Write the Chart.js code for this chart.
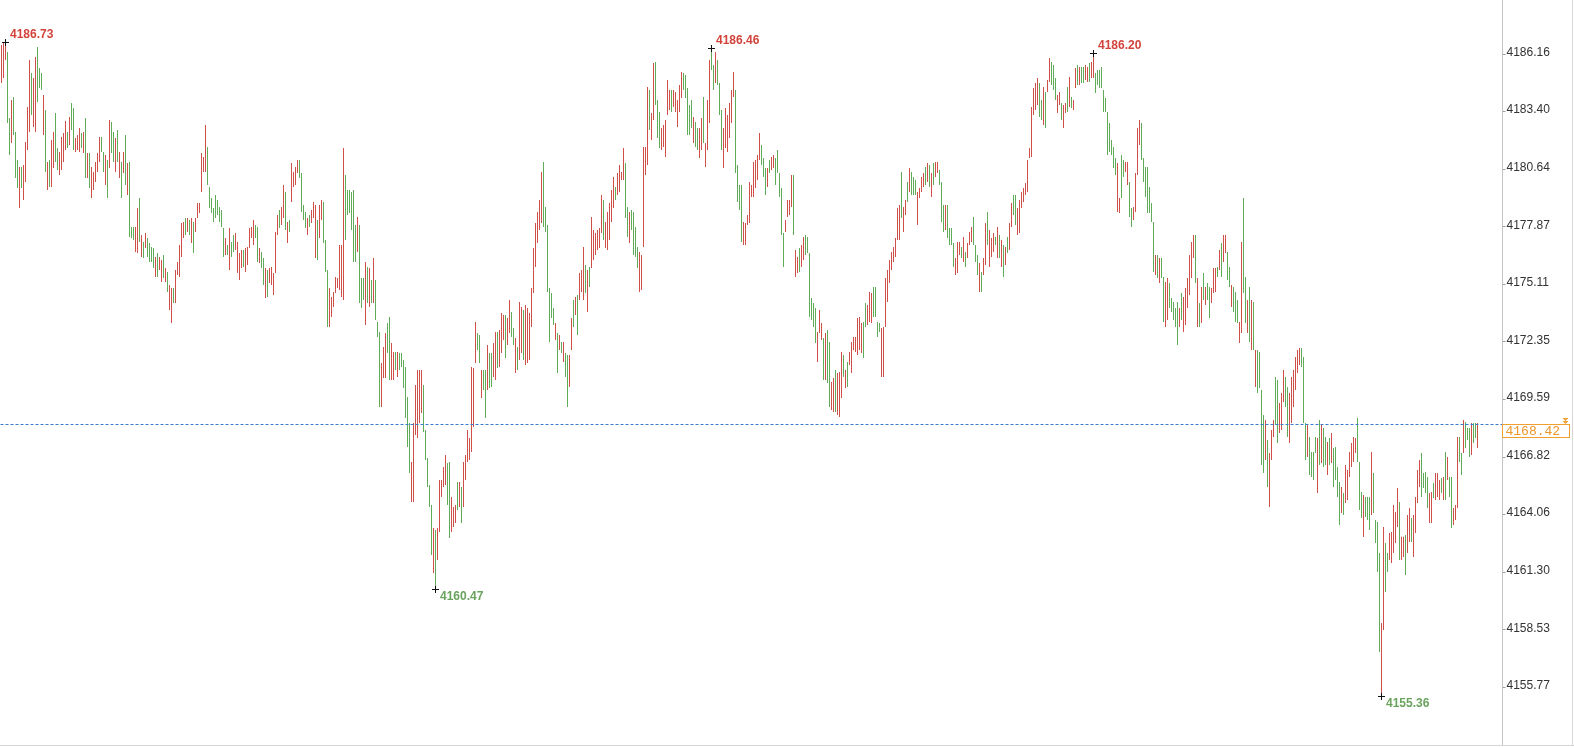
<!DOCTYPE html>
<html>
<head>
<meta charset="utf-8">
<title>4168.42</title>
<script src="https://cdn.jsdelivr.net/npm/chart.js@4.4.0/dist/chart.umd.min.js"></script>
<style>
  html, body { margin: 0; padding: 0; background: #fff; overflow: hidden; }
  #chart { display: block; }
</style>
</head>
<body>
<canvas id="chart" width="1574" height="747"></canvas>
<script>
"use strict";

// bar highs left to right
const highs = [
  4186.60, 4186.70, 4186.73, 4186.26, 4183.10, 4183.96, 4184.10, 4182.42, 4181.08, 4180.74,
  4180.74, 4180.84, 4181.94, 4183.62, 4185.88, 4185.26, 4185.02, 4186.02, 4186.50, 4185.50,
  4185.26, 4184.20, 4183.48, 4180.98, 4181.08, 4182.04, 4182.42, 4183.34, 4181.66, 4181.46,
  4182.18, 4182.38, 4182.95, 4182.42, 4183.14, 4183.82, 4183.58, 4182.14, 4182.28, 4182.62,
  4182.38, 4182.42, 4183.10, 4181.42, 4181.42, 4180.74, 4180.50, 4180.98, 4181.42, 4182.18,
  4182.18, 4181.46, 4181.32, 4181.08, 4183.00, 4182.90, 4182.42, 4182.14, 4182.52, 4181.46,
  4180.98, 4181.46, 4182.28, 4180.94, 4180.98, 4177.86, 4177.86, 4177.86, 4178.78, 4179.26,
  4177.48, 4177.14, 4177.58, 4177.34, 4177.10, 4176.90, 4176.86, 4176.42, 4176.62, 4176.42,
  4176.28, 4176.52, 4175.90, 4175.70, 4175.08, 4174.94, 4174.94, 4175.80, 4176.18, 4177.00,
  4178.06, 4178.10, 4178.30, 4178.30, 4178.20, 4178.30, 4178.10, 4178.30, 4179.02, 4179.02,
  4181.42, 4181.22, 4182.76, 4181.70, 4179.78, 4179.26, 4178.78, 4179.40, 4179.16, 4178.82,
  4178.68, 4177.82, 4177.34, 4177.00, 4177.82, 4177.14, 4177.48, 4177.58, 4177.14, 4176.62,
  4176.76, 4176.76, 4176.86, 4176.90, 4177.82, 4177.86, 4178.20, 4177.96, 4177.86, 4176.86,
  4176.66, 4176.38, 4175.90, 4175.80, 4175.90, 4175.94, 4175.66, 4177.62, 4178.44, 4178.68,
  4178.82, 4179.88, 4179.54, 4178.10, 4178.20, 4180.94, 4180.50, 4180.74, 4181.08, 4181.08,
  4180.46, 4178.92, 4178.58, 4178.30, 4178.44, 4178.68, 4179.06, 4178.92, 4178.20, 4178.92,
  4179.16, 4179.06, 4177.24, 4175.80, 4174.94, 4174.50, 4174.74, 4175.46, 4175.42, 4177.00,
  4177.00, 4181.66, 4180.36, 4179.64, 4179.64, 4179.54, 4179.64, 4177.96, 4178.34, 4177.96,
  4175.42, 4175.42, 4176.18, 4175.94, 4175.90, 4175.32, 4176.38, 4175.32, 4173.30, 4172.82,
  4171.34, 4172.10, 4172.78, 4173.26, 4173.54, 4172.30, 4171.86, 4171.86, 4171.86, 4171.82,
  4171.82, 4171.48, 4171.14, 4169.70, 4168.46, 4166.58, 4168.46, 4170.28, 4171.00, 4171.00,
  4171.00, 4170.28, 4168.12, 4166.78, 4165.48, 4164.52, 4163.42, 4163.32, 4163.42, 4165.72,
  4165.72, 4166.34, 4166.92, 4166.54, 4166.58, 4164.90, 4164.42, 4164.52, 4165.62, 4165.62,
  4165.38, 4166.58, 4166.92, 4168.12, 4167.74, 4171.14, 4171.10, 4173.30, 4172.78, 4172.68,
  4171.00, 4171.00, 4171.00, 4172.20, 4171.82, 4171.82, 4172.30, 4172.82, 4172.82, 4172.92,
  4173.74, 4173.64, 4173.64, 4173.50, 4174.36, 4173.78, 4173.02, 4172.54, 4172.10, 4174.26,
  4174.02, 4173.88, 4174.12, 4173.98, 4173.74, 4174.94, 4176.86, 4178.06, 4178.58, 4179.16,
  4180.50, 4180.98, 4178.82, 4177.96, 4174.94, 4174.70, 4173.98, 4173.26, 4172.78, 4172.68,
  4172.34, 4172.34, 4171.82, 4171.72, 4171.72, 4173.50, 4174.36, 4174.50, 4174.60, 4175.66,
  4175.80, 4176.90, 4176.04, 4175.80, 4175.94, 4178.34, 4177.72, 4177.58, 4177.72, 4177.82,
  4179.40, 4179.16, 4178.10, 4178.58, 4179.02, 4179.64, 4180.26, 4179.78, 4180.46, 4180.84,
  4180.50, 4181.66, 4180.94, 4178.82, 4178.58, 4178.68, 4178.58, 4177.86, 4176.90, 4176.66,
  4176.52, 4181.70, 4181.70, 4184.58, 4184.44, 4183.34, 4185.74, 4185.78, 4183.96, 4183.38,
  4182.62, 4182.76, 4183.00, 4184.92, 4184.44, 4184.44, 4184.44, 4184.34, 4183.96, 4184.68,
  4185.30, 4185.26, 4185.16, 4184.54, 4183.72, 4183.96, 4183.14, 4182.90, 4182.62, 4182.62,
  4183.10, 4184.10, 4181.90, 4183.96, 4185.88, 4186.46, 4185.64, 4186.26, 4185.88, 4184.78,
  4183.48, 4182.62, 4183.58, 4183.24, 4183.82, 4184.44, 4185.30, 4184.44, 4180.84, 4179.88,
  4179.88, 4178.10, 4178.06, 4178.44, 4180.02, 4179.88, 4180.98, 4181.08, 4181.32, 4182.38,
  4181.80, 4181.18, 4180.70, 4180.70, 4181.08, 4181.22, 4181.32, 4181.18, 4181.56, 4180.46,
  4179.74, 4177.58, 4178.20, 4179.16, 4179.16, 4180.36, 4180.36, 4176.76, 4176.42, 4176.86,
  4177.00, 4177.38, 4177.48, 4177.38, 4176.62, 4174.46, 4174.22, 4173.98, 4172.82, 4173.88,
  4173.26, 4172.54, 4172.78, 4172.92, 4172.34, 4170.42, 4170.62, 4171.00, 4170.86, 4170.90,
  4171.86, 4171.72, 4171.00, 4171.38, 4171.86, 4172.34, 4172.58, 4172.58, 4173.50, 4173.54,
  4173.26, 4173.30, 4174.22, 4174.12, 4174.74, 4174.70, 4174.98, 4174.98, 4173.30, 4173.26,
  4173.02, 4173.06, 4175.42, 4175.80, 4176.28, 4176.66, 4176.90, 4177.34, 4178.78, 4178.92,
  4180.50, 4178.82, 4179.16, 4180.02, 4180.70, 4180.50, 4180.26, 4180.12, 4179.54, 4179.74,
  4180.26, 4180.46, 4180.74, 4180.94, 4180.84, 4180.46, 4180.94, 4180.98, 4180.98, 4180.60,
  4180.02, 4178.92, 4178.92, 4178.92, 4177.82, 4177.82, 4177.10, 4176.38, 4177.14, 4177.14,
  4176.90, 4177.38, 4176.66, 4177.10, 4177.62, 4177.86, 4178.34, 4177.00, 4176.52, 4176.14,
  4175.70, 4176.38, 4178.06, 4178.58, 4177.72, 4177.34, 4177.58, 4177.38, 4177.86, 4177.48,
  4177.24, 4177.00, 4176.90, 4177.38, 4178.06, 4179.02, 4179.40, 4179.40, 4178.78, 4179.16,
  4179.54, 4179.74, 4179.98, 4181.08, 4181.66, 4183.62, 4184.54, 4184.78, 4185.02, 4184.78,
  4183.96, 4184.58, 4184.34, 4184.92, 4185.98, 4185.78, 4185.64, 4185.02, 4184.20, 4184.34,
  4183.82, 4183.72, 4183.82, 4184.58, 4185.06, 4184.10, 4183.96, 4185.50, 4185.64, 4185.54,
  4185.54, 4185.54, 4185.64, 4185.54, 4185.74, 4185.78, 4186.20, 4185.26, 4185.40, 4185.40,
  4185.54, 4184.44, 4184.06, 4183.38, 4182.86, 4182.04, 4181.70, 4181.18, 4180.94, 4179.26,
  4181.32, 4181.08, 4180.98, 4180.98, 4180.02, 4178.78, 4178.82, 4180.46, 4182.62, 4183.00,
  4182.86, 4181.18, 4180.74, 4180.74, 4179.78, 4179.02, 4178.10, 4176.52, 4176.52, 4176.38,
  4176.38, 4175.46, 4175.22, 4175.42, 4175.18, 4174.46, 4174.26, 4173.98, 4174.26, 4173.98,
  4174.70, 4174.50, 4174.94, 4175.42, 4176.52, 4177.14, 4177.48, 4177.48, 4175.42, 4174.22,
  4174.98, 4175.66, 4174.98, 4175.18, 4174.98, 4174.94, 4175.90, 4175.90, 4175.94, 4176.76,
  4177.10, 4177.48, 4177.48, 4176.66, 4175.94, 4175.08, 4174.98, 4174.74, 4174.36, 4173.30,
  4177.14, 4179.26, 4175.46, 4174.36, 4174.98, 4174.36, 4174.26, 4171.96, 4171.96, 4171.86,
  4170.04, 4168.84, 4168.60, 4167.64, 4167.02, 4168.12, 4168.60, 4170.66, 4170.52, 4169.42,
  4169.90, 4171.00, 4170.66, 4170.18, 4169.90, 4170.66, 4171.00, 4171.62, 4171.96, 4172.06,
  4172.06, 4171.62, 4168.46, 4168.36, 4167.78, 4167.06, 4167.06, 4167.78, 4167.74, 4168.60,
  4168.36, 4168.22, 4167.78, 4167.54, 4167.74, 4167.98, 4167.26, 4167.30, 4166.34, 4165.62,
  4165.38, 4165.10, 4166.44, 4166.20, 4167.06, 4167.50, 4167.78, 4167.74, 4168.70, 4166.58,
  4165.14, 4165.00, 4164.90, 4164.90, 4164.90, 4167.06, 4166.06, 4163.80, 4163.70, 4162.22,
  4158.86, 4163.46, 4162.70, 4162.22, 4163.18, 4163.22, 4164.52, 4164.18, 4165.34, 4164.66,
  4163.00, 4163.00, 4163.08, 4164.04, 4164.38, 4163.90, 4164.04, 4164.90, 4166.20, 4166.68,
  4167.02, 4166.06, 4166.10, 4165.86, 4165.10, 4165.14, 4165.58, 4166.06, 4166.06, 4165.72,
  4165.82, 4165.86, 4167.06, 4166.82, 4165.86, 4165.86, 4164.38, 4164.52, 4167.78, 4167.78,
  4167.02, 4168.60, 4168.50, 4168.22, 4168.22, 4168.46, 4168.46, 4168.46, 4168.46
];

// bar lows, same order
const lows = [
  4184.78, 4185.02, 4185.88, 4182.86, 4181.32, 4181.90, 4182.28, 4180.22, 4179.74, 4178.78,
  4179.74, 4179.16, 4180.02, 4181.56, 4182.42, 4183.24, 4182.66, 4182.42, 4183.86, 4184.54,
  4184.44, 4182.28, 4180.50, 4179.64, 4179.78, 4179.78, 4180.70, 4180.98, 4180.60, 4180.36,
  4180.60, 4180.98, 4181.56, 4181.66, 4181.80, 4182.52, 4181.56, 4181.46, 4181.56, 4181.46,
  4181.66, 4181.42, 4180.22, 4180.22, 4179.74, 4179.26, 4179.64, 4180.02, 4180.50, 4180.98,
  4181.46, 4180.50, 4179.88, 4179.26, 4180.70, 4181.42, 4180.98, 4180.50, 4180.98, 4180.22,
  4179.26, 4180.46, 4179.88, 4179.40, 4177.38, 4177.34, 4177.24, 4176.66, 4176.62, 4177.14,
  4176.42, 4176.38, 4176.86, 4176.42, 4176.18, 4176.18, 4175.90, 4175.46, 4175.46, 4175.80,
  4175.22, 4175.42, 4175.22, 4174.74, 4173.88, 4173.26, 4174.22, 4174.22, 4175.56, 4175.46,
  4176.42, 4177.34, 4177.48, 4177.62, 4177.48, 4177.10, 4176.62, 4177.62, 4178.30, 4178.54,
  4179.54, 4180.50, 4180.50, 4179.88, 4178.78, 4178.54, 4178.10, 4178.30, 4178.44, 4178.10,
  4177.86, 4176.42, 4176.52, 4176.52, 4175.80, 4176.42, 4176.66, 4176.76, 4175.66, 4175.32,
  4175.90, 4175.94, 4175.70, 4176.04, 4176.86, 4177.34, 4177.00, 4177.34, 4176.18, 4176.14,
  4175.90, 4175.08, 4174.46, 4174.50, 4175.18, 4175.08, 4174.60, 4175.66, 4177.48, 4177.82,
  4177.96, 4178.30, 4177.72, 4177.10, 4177.62, 4179.06, 4179.78, 4179.88, 4180.46, 4180.22,
  4178.58, 4178.20, 4177.82, 4177.48, 4177.86, 4178.06, 4178.30, 4176.38, 4176.28, 4177.34,
  4178.20, 4177.10, 4175.70, 4173.06, 4173.06, 4173.54, 4174.02, 4174.70, 4174.94, 4174.84,
  4174.50, 4174.36, 4177.24, 4178.44, 4178.54, 4177.72, 4176.18, 4176.18, 4176.66, 4174.22,
  4173.98, 4174.36, 4173.16, 4174.22, 4174.02, 4174.22, 4174.22, 4173.40, 4172.58, 4169.22,
  4169.22, 4170.62, 4170.62, 4171.82, 4170.52, 4170.52, 4170.52, 4171.00, 4170.66, 4171.00,
  4171.14, 4170.14, 4168.70, 4167.30, 4166.06, 4164.66, 4164.66, 4167.88, 4167.74, 4168.46,
  4168.94, 4168.02, 4166.68, 4165.38, 4164.42, 4162.12, 4161.26, 4160.47, 4161.88, 4163.22,
  4164.90, 4165.38, 4165.48, 4164.52, 4162.94, 4163.22, 4163.46, 4163.66, 4164.28, 4164.42,
  4163.66, 4164.42, 4165.72, 4166.58, 4166.68, 4167.06, 4168.26, 4171.34, 4171.96, 4171.34,
  4169.66, 4170.04, 4168.70, 4170.04, 4170.14, 4170.18, 4170.66, 4170.52, 4171.10, 4171.14,
  4171.82, 4172.44, 4171.58, 4172.20, 4172.78, 4172.58, 4172.20, 4170.86, 4171.00, 4171.48,
  4171.82, 4171.48, 4171.24, 4171.34, 4171.48, 4173.06, 4174.70, 4175.94, 4177.10, 4177.72,
  4178.06, 4177.86, 4177.62, 4174.74, 4172.34, 4173.50, 4173.16, 4172.44, 4170.86, 4171.96,
  4171.82, 4171.38, 4170.66, 4169.22, 4170.18, 4171.96, 4173.06, 4173.64, 4172.68, 4174.36,
  4174.74, 4174.36, 4174.70, 4173.78, 4174.98, 4175.90, 4176.28, 4176.52, 4176.76, 4176.86,
  4177.58, 4177.24, 4176.86, 4176.76, 4177.24, 4178.10, 4178.78, 4179.16, 4179.40, 4179.54,
  4180.12, 4180.12, 4178.30, 4177.38, 4177.10, 4177.72, 4176.52, 4176.42, 4175.90, 4174.74,
  4174.84, 4176.90, 4180.36, 4180.84, 4182.52, 4182.04, 4183.00, 4183.72, 4182.14, 4181.66,
  4181.56, 4181.70, 4181.22, 4183.24, 4183.48, 4183.38, 4183.62, 4183.38, 4182.66, 4183.38,
  4184.06, 4184.44, 4184.06, 4182.28, 4182.28, 4182.62, 4181.90, 4181.70, 4181.56, 4181.18,
  4181.56, 4181.90, 4180.74, 4181.56, 4182.86, 4185.40, 4184.44, 4184.78, 4184.68, 4183.24,
  4181.56, 4180.70, 4181.66, 4181.46, 4182.14, 4182.86, 4184.10, 4180.46, 4179.06, 4178.68,
  4177.14, 4177.00, 4177.00, 4177.96, 4178.06, 4179.30, 4179.30, 4179.74, 4180.12, 4181.08,
  4180.84, 4180.26, 4179.40, 4179.78, 4180.46, 4180.60, 4180.70, 4179.88, 4180.46, 4179.30,
  4177.48, 4175.94, 4177.62, 4178.34, 4178.44, 4178.82, 4177.48, 4175.46, 4175.66, 4175.70,
  4175.94, 4176.28, 4176.52, 4176.62, 4173.54, 4173.40, 4173.06, 4172.30, 4171.38, 4172.78,
  4172.44, 4170.52, 4170.52, 4170.38, 4169.22, 4169.08, 4168.98, 4168.98, 4168.84, 4168.74,
  4169.66, 4170.66, 4170.14, 4170.18, 4171.24, 4170.86, 4171.96, 4171.86, 4171.72, 4171.96,
  4171.82, 4171.58, 4173.06, 4173.16, 4173.30, 4173.26, 4173.54, 4173.54, 4172.58, 4172.82,
  4170.66, 4170.66, 4173.06, 4174.26, 4175.18, 4175.80, 4176.18, 4176.42, 4177.24, 4177.24,
  4178.30, 4177.62, 4178.44, 4179.06, 4179.54, 4179.40, 4179.40, 4179.40, 4177.96, 4179.26,
  4179.54, 4179.78, 4179.88, 4180.02, 4179.78, 4179.30, 4179.88, 4180.26, 4180.46, 4179.88,
  4178.10, 4177.62, 4177.72, 4177.34, 4177.00, 4177.00, 4175.94, 4175.56, 4175.66, 4176.52,
  4176.38, 4176.18, 4175.94, 4176.38, 4177.00, 4177.14, 4177.00, 4176.18, 4175.56, 4174.74,
  4174.74, 4175.56, 4176.04, 4177.00, 4175.94, 4176.42, 4176.66, 4177.00, 4176.38, 4176.38,
  4175.94, 4175.46, 4176.04, 4176.62, 4176.76, 4177.86, 4178.44, 4177.96, 4177.48, 4177.58,
  4178.78, 4179.06, 4179.40, 4179.54, 4181.18, 4181.22, 4183.24, 4183.48, 4183.72, 4183.14,
  4183.00, 4182.76, 4182.62, 4184.34, 4184.82, 4184.68, 4184.44, 4183.96, 4183.34, 4183.72,
  4183.00, 4182.62, 4183.34, 4183.38, 4183.62, 4183.58, 4183.48, 4184.54, 4184.68, 4184.68,
  4184.78, 4184.78, 4184.92, 4184.82, 4184.82, 4185.02, 4185.02, 4184.30, 4184.68, 4184.54,
  4184.54, 4183.38, 4183.38, 4181.32, 4181.46, 4181.32, 4180.70, 4180.36, 4178.58, 4178.54,
  4179.26, 4180.26, 4180.50, 4179.88, 4178.34, 4177.86, 4178.20, 4178.58, 4180.36, 4181.80,
  4181.08, 4180.02, 4179.30, 4178.54, 4178.54, 4178.10, 4175.70, 4175.56, 4175.42, 4175.18,
  4175.42, 4173.30, 4173.06, 4173.40, 4173.98, 4173.78, 4173.40, 4173.06, 4172.20, 4173.06,
  4173.40, 4172.82, 4173.16, 4173.98, 4174.60, 4175.42, 4176.38, 4175.18, 4173.06, 4173.06,
  4173.26, 4174.36, 4174.12, 4174.36, 4173.50, 4174.22, 4174.70, 4174.74, 4175.46, 4175.80,
  4175.46, 4176.18, 4176.62, 4175.32, 4174.98, 4174.02, 4173.78, 4173.30, 4173.26, 4172.30,
  4172.78, 4174.70, 4173.26, 4172.78, 4172.34, 4171.96, 4171.96, 4170.18, 4169.90, 4170.14,
  4166.44, 4166.06, 4166.68, 4165.38, 4164.42, 4166.68, 4167.78, 4168.36, 4167.50, 4167.98,
  4168.12, 4169.46, 4169.22, 4167.78, 4167.50, 4168.46, 4169.22, 4170.04, 4170.86, 4171.24,
  4171.14, 4168.46, 4166.68, 4166.82, 4165.96, 4165.86, 4165.72, 4167.02, 4165.10, 4166.44,
  4166.54, 4166.34, 4166.44, 4165.96, 4166.44, 4166.54, 4165.38, 4165.72, 4164.90, 4163.56,
  4164.14, 4164.04, 4164.62, 4164.76, 4165.86, 4166.34, 4166.58, 4167.02, 4166.58, 4164.28,
  4163.90, 4162.98, 4163.94, 4163.80, 4163.32, 4164.04, 4164.14, 4162.70, 4161.30, 4157.46,
  4155.36, 4158.52, 4160.34, 4161.30, 4161.88, 4161.74, 4162.22, 4162.70, 4163.46, 4161.88,
  4161.88, 4162.02, 4161.16, 4162.22, 4162.74, 4162.74, 4162.02, 4163.18, 4164.62, 4165.38,
  4164.90, 4165.34, 4165.10, 4164.38, 4163.66, 4163.66, 4164.86, 4164.76, 4164.90, 4164.76,
  4165.10, 4164.76, 4164.76, 4165.72, 4164.90, 4163.42, 4163.56, 4163.80, 4164.38, 4166.58,
  4165.96, 4167.02, 4167.26, 4167.64, 4166.82, 4166.92, 4167.50, 4167.74, 4167.26
];

// r = closed up (red), g = closed down (green)
const dirs =
  "rrrggrgggr" + "grrrrgrrgg" + "grgrgrrggr" + "rrrgrggrrr" + "grgrgrrrrr" +
  "ggrgrggrgr" + "grgrgggrrg" + "rgrggggrgr" + "rgrgrrgrrr" + "rrgrgrgrrr" +
  "rrrggggggg" + "ggrgrggrrr" + "rgrrrrrggr" + "ggrgrrrrrg" + "rrgrgrrrrg" +
  "gggrgrrrgr" + "rgggrrrrrr" + "rrggggggrg" + "ggrgrgrggg" + "rrrggrrgrg" +
  "gggggrrrrr" + "rgggggrgrr" + "rrrggrrrgr" + "grrrrrrrgg" + "rggrggrrgr" +
  "rrgrrggrgr" + "rgrrrrrrrr" + "rggggggrgr" + "grggrrgrgr" + "rrgrgrrrrr" +
  "rgrrrrrgrr" + "rrggrggggr" + "rrrrgrrggg" + "rrrrrgrrrr" + "rgggggrggr" +
  "rgrrrggrgg" + "grrrrrrggg" + "grrrrrrrrr" + "gggrgrrggg" + "ggrrrrgrrg" +
  "rrggggggrr" + "rgrggrrgrr" + "rgrgrrrrrr" + "rggrrrgggg" + "rrrrrrrrrr" +
  "grrgrgggrr" + "rrgrgrgrrg" + "ggrggggrrr" + "grgrrrgggr" + "grrgrrrgrg" +
  "rgrgrrggrr" + "rrrrrrrrrg" + "grgrrgggrr" + "grrgrgrrgr" + "ggrrgrrggg" +
  "ggggggggrr" + "ggrrggrrrr" + "gggggggrgr" + "ggrrgggggr" + "grrrrrrgrg" +
  "rgrggrrrgr" + "grrggrgggr" + "rggrgrgrgg" + "ggrgrrrggr" + "rrggrrrrrr" +
  "gggrggggrg" + "rggrgrgggg" + "rgrrrrrrgg" + "grgggrgggg" + "rrggrrrrrg" +
  "rrgrrgrrrr" + "ggggrrgrrr" + "grgrggrrrg" + "grgggrggr";

const tickValues = [4155.77, 4158.53, 4161.30, 4164.06, 4166.82, 4169.59,
                    4172.35, 4175.11, 4177.87, 4180.64, 4183.40, 4186.16];
const lastPrice = 4168.42;
const marks = [
  { index: 2, side: 'high' },
  { index: 217, side: 'low' },
  { index: 355, side: 'high' },
  { index: 546, side: 'high' },
  { index: 690, side: 'low' }
];
const yMin = 4153.00;
const yMax = 4188.76;
const slotCount = 751;
const labels = Array.from({ length: slotCount }, (_, i) => String(i));

const RED = '#cf4f49';
const GREEN = '#5fab58';
const LABEL_FONT = '"Liberation Sans", Arial, sans-serif';

const overlay = {
  id: 'overlay',
  afterDatasetsDraw(chart) {
    const { ctx, chartArea, scales } = chart;
    const xs = scales.x, ys = scales.y;
    const bottom = Math.round(chartArea.bottom) + 0.5;
    ctx.save();

    // frame
    ctx.lineWidth = 1;
    ctx.strokeStyle = '#d6d6d6';
    ctx.beginPath();
    ctx.moveTo(0, bottom);
    ctx.lineTo(chart.width, bottom);
    ctx.moveTo(chart.width - 1.5, 0);
    ctx.lineTo(chart.width - 1.5, bottom);
    ctx.stroke();

    // last price line and its box
    const py = Math.round(ys.getPixelForValue(lastPrice)) + 0.5;
    ctx.strokeStyle = '#3a7bd0';
    ctx.setLineDash([3, 2]);
    ctx.beginPath();
    ctx.moveTo(chartArea.left, py);
    ctx.lineTo(chartArea.right, py);
    ctx.stroke();
    ctx.setLineDash([]);

    const bx = Math.floor(chartArea.right) + 0.5;
    ctx.fillStyle = '#fff';
    ctx.fillRect(bx, py, 67, 13);
    ctx.strokeStyle = '#f0a030';
    ctx.strokeRect(bx, py, 67, 13);
    ctx.fillStyle = '#ee9528';
    ctx.font = '13px "Liberation Mono", "DejaVu Sans Mono", monospace';
    ctx.textAlign = 'left';
    ctx.textBaseline = 'middle';
    ctx.fillText(lastPrice.toFixed(2), bx + 3, py + 7);

    // small double arrow above the box
    const ax = bx + 63;
    ctx.fillStyle = '#f0a030';
    [py - 6.5, py - 3.5].forEach(t => {
      ctx.beginPath();
      ctx.moveTo(ax - 3, t);
      ctx.lineTo(ax + 3, t);
      ctx.lineTo(ax, t + 3);
      ctx.closePath();
      ctx.fill();
    });

    // swing high / low markers
    ctx.font = 'bold 12px ' + LABEL_FONT;
    marks.forEach(m => {
      const v = m.side === 'high' ? highs[m.index] : lows[m.index];
      const cx = xs.getPixelForValue(m.index);
      const cy = Math.round(ys.getPixelForValue(v)) + 0.5;
      ctx.strokeStyle = '#111';
      ctx.beginPath();
      ctx.moveTo(cx - 3.5, cy);
      ctx.lineTo(cx + 3.5, cy);
      ctx.moveTo(cx, cy - 3.5);
      ctx.lineTo(cx, cy + 3.5);
      ctx.stroke();
      ctx.fillStyle = m.side === 'high' ? '#d2433b' : '#69a35d';
      ctx.fillText(v.toFixed(2), cx + 4.5, m.side === 'high' ? cy - 7.5 : cy + 7.5);
    });

    ctx.restore();
  }
};

const canvas = document.getElementById('chart');

new Chart(canvas, {
  type: 'bar',
  data: {
    labels: labels,
    datasets: [{
      data: highs.map((h, i) => [lows[i], h]),
      backgroundColor: dirs.split('').map(d => d === 'r' ? RED : GREEN),
      barThickness: 1,
      borderWidth: 0,
      inflateAmount: 0
    }]
  },
  options: {
    responsive: false,
    animation: false,
    devicePixelRatio: 1,
    layout: { padding: { left: 0.5, top: 0, right: 0, bottom: 2 } },
    plugins: {
      legend: { display: false },
      tooltip: { enabled: false }
    },
    scales: {
      x: {
        type: 'category',
        display: false,
        offset: true,
        grid: { display: false }
      },
      y: {
        position: 'right',
        min: yMin,
        max: yMax,
        afterBuildTicks: scale => {
          scale.ticks = tickValues.map(v => ({ value: v }));
        },
        afterFit: scale => {
          scale.width = 71.5;
          scale.paddingTop = 0;
          scale.paddingBottom = 0;
        },
        grid: {
          drawOnChartArea: false,
          drawTicks: true,
          tickLength: 3,
          color: '#9a9a9a'
        },
        border: { display: true, color: '#c4c4c4', dash: [1, 2] },
        ticks: {
          padding: 1,
          labelOffset: -1.5,
          color: '#333',
          font: { family: LABEL_FONT, size: 12 },
          callback: v => Number(v).toFixed(2)
        }
      }
    }
  },
  plugins: [overlay]
});
</script>
</body>
</html>
